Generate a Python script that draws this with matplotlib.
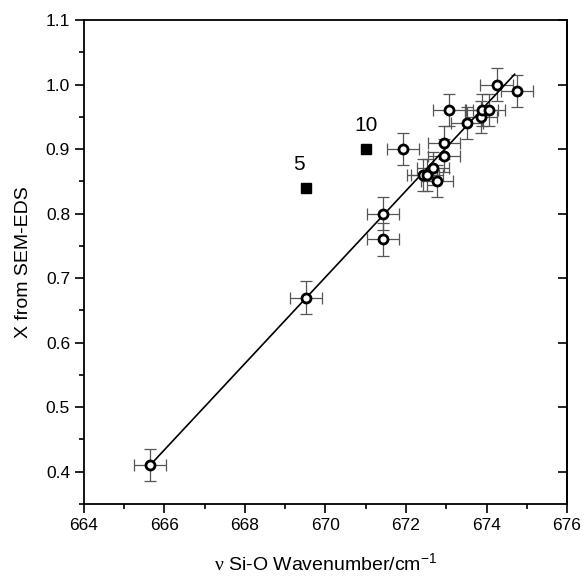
import matplotlib
matplotlib.use("Agg")
import matplotlib.pyplot as plt
from matplotlib.ticker import MultipleLocator

plt.rcParams['font.family'] = ['Liberation Sans', 'DejaVu Sans']
plt.rcParams['mathtext.fontset'] = 'custom'
plt.rcParams['mathtext.rm'] = 'Liberation Serif'
plt.rcParams['mathtext.sf'] = 'Liberation Sans'
plt.rcParams['mathtext.it'] = 'Liberation Sans:italic'

# Data: wavenumber (cm-1) vs X from SEM-EDS
wavenumber = [665.64, 669.52, 671.42, 671.42, 671.93, 672.43, 672.53, 672.68,
              672.78, 672.95, 672.94, 673.07, 673.51, 673.86, 673.88, 674.06,
              674.25, 674.76]
x_sem = [0.41, 0.67, 0.80, 0.76, 0.90, 0.86, 0.86, 0.87,
         0.85, 0.89, 0.91, 0.96, 0.94, 0.95, 0.96, 0.96,
         1.00, 0.99]
x_err = [0.40] * len(wavenumber)
y_err = [0.025] * len(wavenumber)

# Outlier samples (filled squares)
outlier_wavenumber = [669.52, 671.0]
outlier_x = [0.84, 0.90]
outlier_labels = ["5", "10"]

# Linear fit line endpoints
fit_x = [665.64, 674.70]
fit_y = [0.41, 1.016]

fig = plt.figure(figsize=(5.84, 5.78), dpi=100)
ax = fig.add_axes([0.1438, 0.128, 0.8271, 0.8374])

ax.plot(fit_x, fit_y, color='black', lw=1.2, zorder=2)
ax.errorbar(wavenumber, x_sem, xerr=x_err, yerr=y_err, fmt='none',
            ecolor='#555555', elinewidth=0.9, capsize=4.5, capthick=0.9, zorder=1)
ax.plot(wavenumber, x_sem, 'o', ms=6.5, mfc='white', mec='black', mew=2.0, zorder=3)
ax.plot(outlier_wavenumber, outlier_x, 's', ms=7, color='black', zorder=3)
for xv, yv, lab in zip(outlier_wavenumber, outlier_x, outlier_labels):
    ax.annotate(lab, (xv, yv), xytext=(-5 if lab == "5" else 0, 17), textcoords='offset points',
                ha='center', va='center', fontsize=15)

ax.set_xlim(664, 676)
ax.set_ylim(0.35, 1.1)
ax.xaxis.set_major_locator(MultipleLocator(2))
ax.xaxis.set_minor_locator(MultipleLocator(1))
ax.yaxis.set_major_locator(MultipleLocator(0.1))
ax.yaxis.set_minor_locator(MultipleLocator(0.05))
ax.yaxis.set_major_formatter(matplotlib.ticker.FormatStrFormatter('%.1f'))

for s in ax.spines.values():
    s.set_linewidth(1.3)

ax.tick_params(which='both', direction='out', labelsize=12.5, width=1.2)
ax.tick_params(which='major', length=6.5)
ax.tick_params(which='minor', length=3.5)

# right axis: inward major ticks, no labels
sec = ax.secondary_yaxis('right')
sec.yaxis.set_major_locator(MultipleLocator(0.1))
sec.tick_params(which='major', direction='in', length=6.5, width=1.2, labelright=False)
sec.tick_params(which='minor', right=False)
sec.spines['right'].set_linewidth(1.3)

ax.set_xlabel('$\\mathrm{\\nu}$ Si-O Wavenumber/cm$^{\\mathsf{-1}}$', fontsize=14, labelpad=14)
ax.set_ylabel('X from SEM-EDS', fontsize=14, labelpad=10)

fig.savefig('out.png', dpi=100)
